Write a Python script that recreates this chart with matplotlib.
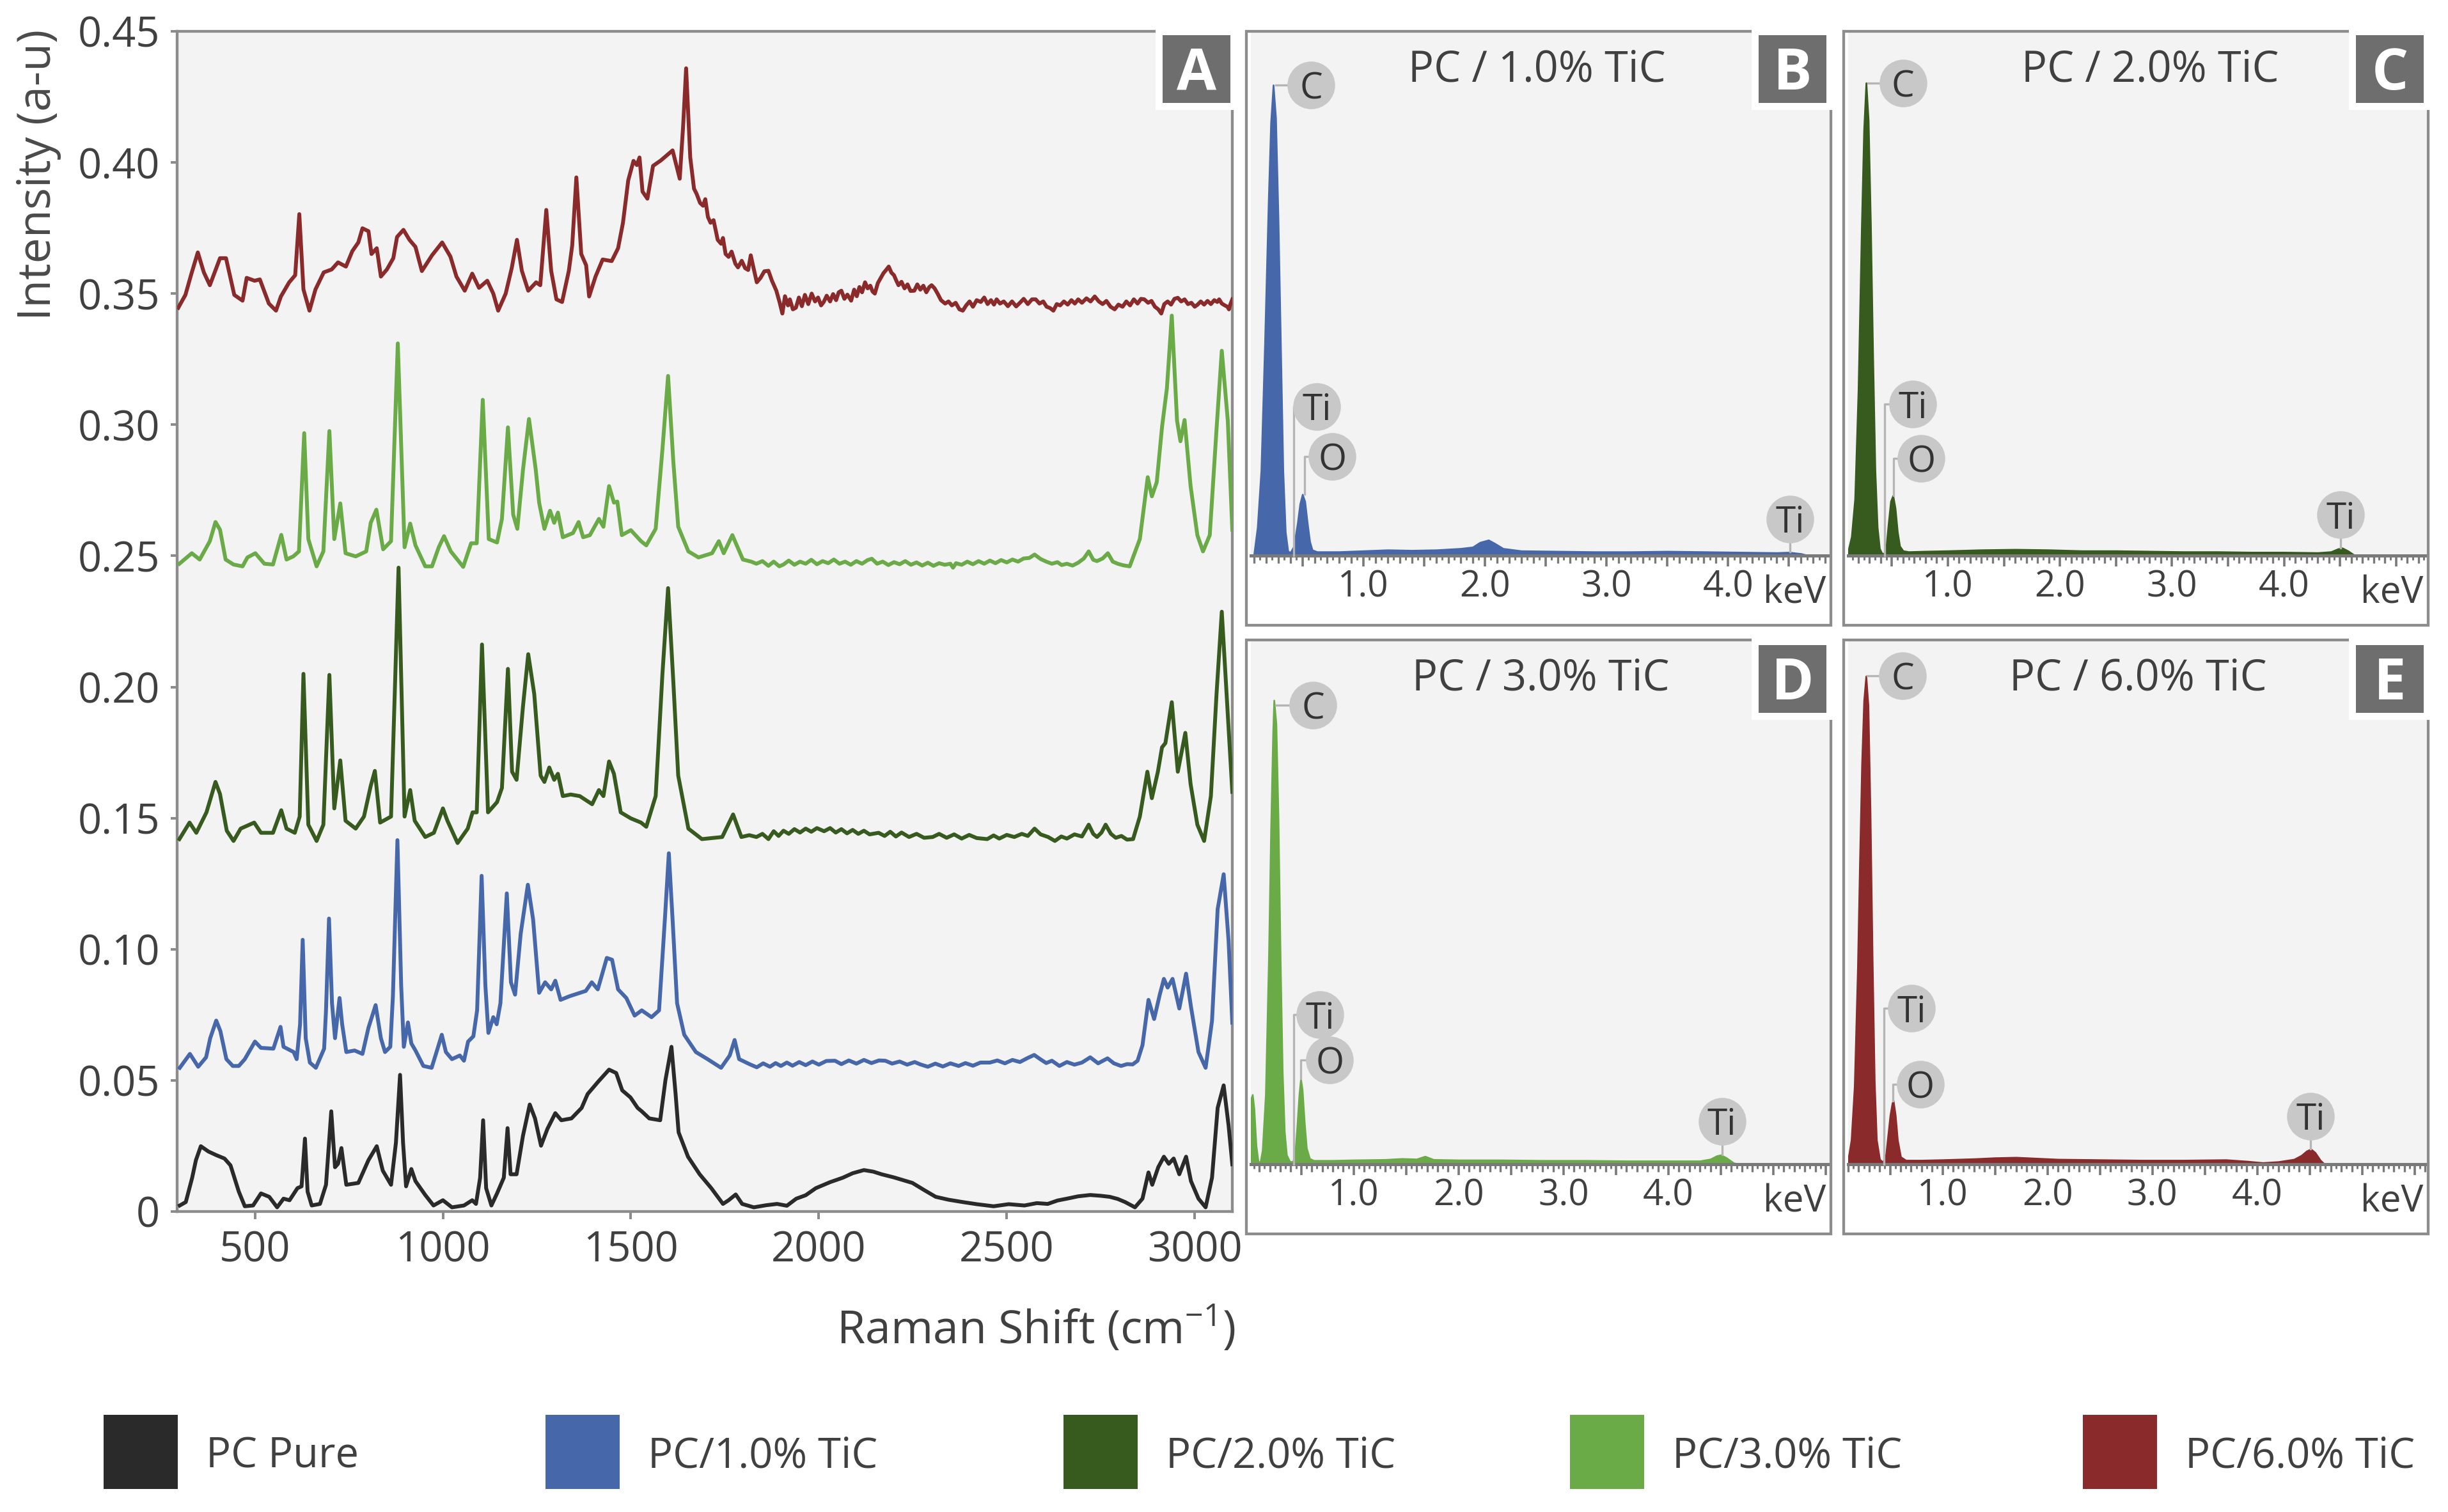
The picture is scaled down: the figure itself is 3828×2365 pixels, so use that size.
import matplotlib
matplotlib.use('Agg')
import matplotlib.pyplot as plt
from matplotlib.patches import Rectangle
from matplotlib.ticker import MultipleLocator, FuncFormatter
import numpy as np

plt.rcParams['font.family'] = ['Open Sans', 'DejaVu Sans']
plt.rcParams['mathtext.fontset'] = 'custom'
plt.rcParams['mathtext.rm'] = 'Open Sans'
plt.rcParams['mathtext.it'] = 'Open Sans:italic'
plt.rcParams['mathtext.bf'] = 'Open Sans:bold'

# ---------------------------------------------------------------- data
series_names = ['PC Pure', 'PC/1.0% TiC', 'PC/2.0% TiC', 'PC/3.0% TiC', 'PC/6.0% TiC']
series_colors = ['#2a2a2a', '#4668AA', '#375A1E', '#6AAB48', '#8A2A2A']

raman_pure = [
    (300, 0.0023), (316, 0.0036), (333, 0.0129), (343, 0.0196), (356, 0.0249), (376, 0.0229),
    (397, 0.0215), (419, 0.0202), (435, 0.0176), (457, 0.0076), (473, 0.0020), (495, 0.0023),
    (516, 0.0069), (538, 0.0056), (559, 0.0016), (576, 0.0049), (592, 0.0043), (613, 0.0089),
    (624, 0.0096), (633, 0.0278), (640, 0.0076), (651, 0.0023), (673, 0.0029), (689, 0.0102),
    (703, 0.0382), (713, 0.0169), (721, 0.0182), (730, 0.0242), (743, 0.0102), (775, 0.0109),
    (802, 0.0196), (824, 0.0249), (840, 0.0156), (862, 0.0102), (875, 0.0262), (886, 0.0521),
    (894, 0.0262), (902, 0.0096), (916, 0.0162), (927, 0.0116), (953, 0.0063), (975, 0.0023),
    (1000, 0.0043), (1024, 0.0016), (1056, 0.0023), (1078, 0.0043), (1088, 0.0029), (1099, 0.0129),
    (1107, 0.0348), (1115, 0.0089), (1129, 0.0023), (1144, 0.0069), (1162, 0.0129), (1172, 0.0318),
    (1180, 0.0142), (1196, 0.0142), (1213, 0.0289), (1231, 0.0408), (1245, 0.0355), (1261, 0.0251),
    (1278, 0.0315), (1299, 0.0375), (1315, 0.0348), (1342, 0.0355), (1369, 0.0395), (1385, 0.0448),
    (1413, 0.0495), (1442, 0.0541), (1461, 0.0528), (1477, 0.0462), (1499, 0.0435), (1518, 0.0395),
    (1529, 0.0382), (1549, 0.0355), (1578, 0.0348), (1592, 0.0501), (1608, 0.0628), (1619, 0.0448),
    (1627, 0.0302), (1652, 0.0209), (1683, 0.0142), (1714, 0.0089), (1745, 0.0029), (1760, 0.0043),
    (1779, 0.0065), (1796, 0.0029), (1827, 0.0016), (1860, 0.0024), (1889, 0.0029), (1915, 0.0022),
    (1940, 0.0049), (1965, 0.0062), (1992, 0.0089), (2030, 0.0112), (2064, 0.0129), (2090, 0.0146),
    (2120, 0.0158), (2145, 0.0152), (2167, 0.0142), (2200, 0.0130), (2249, 0.0109), (2280, 0.0082),
    (2311, 0.0056), (2345, 0.0045), (2383, 0.0036), (2420, 0.0028), (2465, 0.0020), (2505, 0.0028),
    (2547, 0.0023), (2580, 0.0032), (2609, 0.0029), (2635, 0.0042), (2660, 0.0049), (2690, 0.0058),
    (2722, 0.0063), (2750, 0.0060), (2774, 0.0056), (2795, 0.0048), (2815, 0.0036), (2841, 0.0016),
    (2861, 0.0049), (2877, 0.0149), (2887, 0.0102), (2903, 0.0169), (2918, 0.0209), (2931, 0.0182),
    (2944, 0.0202), (2959, 0.0142), (2977, 0.0209), (2990, 0.0116), (3010, 0.0049), (3029, 0.0016),
    (3046, 0.0129), (3061, 0.0395), (3077, 0.0481), (3090, 0.0329), (3100, 0.0180),
]

raman_1pct = [
    (300, 0.0548), (327, 0.0601), (349, 0.0552), (370, 0.0588), (381, 0.0661), (397, 0.0728),
    (408, 0.0688), (424, 0.0581), (441, 0.0555), (457, 0.0555), (473, 0.0581), (500, 0.0648),
    (516, 0.0624), (549, 0.0621), (568, 0.0704), (576, 0.0628), (603, 0.0608), (611, 0.0581),
    (620, 0.0714), (627, 0.1036), (635, 0.0661), (646, 0.0568), (662, 0.0548), (684, 0.0621),
    (689, 0.0767), (697, 0.1117), (705, 0.0794), (713, 0.0661), (725, 0.0814), (732, 0.0714),
    (743, 0.0608), (765, 0.0614), (786, 0.0601), (802, 0.0701), (821, 0.0787), (835, 0.0661),
    (846, 0.0608), (860, 0.0628), (867, 0.0821), (879, 0.1416), (889, 0.0861), (896, 0.0628),
    (907, 0.0721), (916, 0.0641), (927, 0.0614), (948, 0.0555), (970, 0.0548), (983, 0.0608),
    (997, 0.0674), (1008, 0.0608), (1024, 0.0581), (1045, 0.0595), (1056, 0.0575), (1067, 0.0648),
    (1081, 0.0668), (1091, 0.0767), (1103, 0.1280), (1113, 0.0861), (1121, 0.0681), (1134, 0.0741),
    (1143, 0.0714), (1153, 0.0794), (1170, 0.1213), (1181, 0.0874), (1192, 0.0827), (1207, 0.1060),
    (1226, 0.1246), (1240, 0.1113), (1256, 0.0834), (1272, 0.0874), (1288, 0.0847), (1299, 0.0880),
    (1313, 0.0807), (1337, 0.0821), (1380, 0.0841), (1396, 0.0874), (1412, 0.0847), (1436, 0.0967),
    (1450, 0.0960), (1466, 0.0847), (1488, 0.0814), (1510, 0.0747), (1529, 0.0767), (1555, 0.0741),
    (1575, 0.0767), (1591, 0.1126), (1601, 0.1366), (1611, 0.1113), (1623, 0.0794), (1642, 0.0674),
    (1673, 0.0608), (1704, 0.0581), (1740, 0.0548), (1763, 0.0595), (1776, 0.0654), (1788, 0.0581),
    (1817, 0.0561), (1835, 0.0550), (1852, 0.0565), (1870, 0.0552), (1885, 0.0566), (1899, 0.0555),
    (1915, 0.0568), (1930, 0.0556), (1948, 0.0570), (1965, 0.0558), (1983, 0.0572), (2000, 0.0560),
    (2020, 0.0574), (2043, 0.0575), (2060, 0.0562), (2080, 0.0576), (2100, 0.0564), (2120, 0.0578),
    (2140, 0.0566), (2160, 0.0576), (2177, 0.0575), (2195, 0.0564), (2215, 0.0572), (2235, 0.0560),
    (2255, 0.0570), (2270, 0.0561), (2290, 0.0552), (2310, 0.0564), (2330, 0.0553), (2350, 0.0565),
    (2372, 0.0555), (2390, 0.0566), (2410, 0.0556), (2430, 0.0568), (2455, 0.0568), (2475, 0.0576),
    (2495, 0.0565), (2515, 0.0578), (2535, 0.0570), (2555, 0.0585), (2573, 0.0597), (2590, 0.0580),
    (2605, 0.0566), (2620, 0.0575), (2640, 0.0555), (2660, 0.0570), (2680, 0.0560), (2700, 0.0568),
    (2722, 0.0588), (2743, 0.0565), (2768, 0.0584), (2785, 0.0565), (2804, 0.0555), (2820, 0.0562),
    (2835, 0.0561), (2848, 0.0575), (2861, 0.0634), (2877, 0.0807), (2892, 0.0734), (2907, 0.0827),
    (2918, 0.0887), (2928, 0.0854), (2941, 0.0887), (2959, 0.0774), (2977, 0.0907), (2990, 0.0781),
    (3010, 0.0608), (3029, 0.0548), (3046, 0.0727), (3061, 0.1153), (3077, 0.1286), (3090, 0.1033),
    (3100, 0.0720),
]

raman_2pct = [
    (299, 0.1420), (326, 0.1483), (344, 0.1444), (371, 0.1522), (395, 0.1638), (407, 0.1592),
    (425, 0.1452), (443, 0.1413), (462, 0.1460), (498, 0.1483), (516, 0.1444), (548, 0.1444),
    (570, 0.1530), (584, 0.1460), (606, 0.1444), (619, 0.1506), (629, 0.2050), (642, 0.1475),
    (664, 0.1413), (682, 0.1475), (698, 0.2046), (711, 0.1537), (727, 0.1720), (741, 0.1490),
    (768, 0.1460), (790, 0.1506), (808, 0.1623), (819, 0.1680), (833, 0.1483), (862, 0.1506),
    (882, 0.2455), (898, 0.1506), (913, 0.1607), (925, 0.1490), (953, 0.1428), (976, 0.1444),
    (1000, 0.1537), (1012, 0.1490), (1039, 0.1405), (1066, 0.1460), (1079, 0.1522), (1090, 0.1522),
    (1104, 0.2162), (1120, 0.1522), (1144, 0.1561), (1157, 0.1615), (1173, 0.2069), (1184, 0.1677),
    (1196, 0.1646), (1213, 0.1926), (1227, 0.2125), (1243, 0.1973), (1260, 0.1662), (1270, 0.1638),
    (1283, 0.1693), (1296, 0.1646), (1306, 0.1669), (1319, 0.1584), (1340, 0.1590), (1364, 0.1584),
    (1397, 0.1553), (1415, 0.1607), (1427, 0.1584), (1442, 0.1716), (1455, 0.1669), (1473, 0.1522),
    (1500, 0.1499), (1527, 0.1483), (1541, 0.1467), (1566, 0.1584), (1584, 0.2050), (1599, 0.2377),
    (1613, 0.2019), (1626, 0.1662), (1653, 0.1460), (1689, 0.1420), (1743, 0.1428), (1772, 0.1514),
    (1794, 0.1428), (1815, 0.1435), (1834, 0.1428), (1850, 0.1440), (1866, 0.1420), (1880, 0.1450),
    (1893, 0.1432), (1906, 0.1452), (1920, 0.1440), (1935, 0.1458), (1950, 0.1445), (1965, 0.1460),
    (1980, 0.1448), (1995, 0.1462), (2014, 0.1450), (2030, 0.1462), (2045, 0.1445), (2060, 0.1458),
    (2075, 0.1442), (2090, 0.1455), (2105, 0.1440), (2120, 0.1452), (2135, 0.1438), (2159, 0.1444),
    (2175, 0.1432), (2190, 0.1448), (2205, 0.1430), (2220, 0.1445), (2240, 0.1428), (2260, 0.1440),
    (2280, 0.1425), (2303, 0.1428), (2320, 0.1440), (2340, 0.1425), (2360, 0.1438), (2380, 0.1422),
    (2400, 0.1436), (2420, 0.1424), (2448, 0.1420), (2465, 0.1434), (2480, 0.1422), (2500, 0.1436),
    (2520, 0.1428), (2540, 0.1440), (2556, 0.1432), (2574, 0.1460), (2590, 0.1438), (2610, 0.1428),
    (2628, 0.1413), (2645, 0.1430), (2660, 0.1422), (2680, 0.1438), (2700, 0.1430), (2718, 0.1475),
    (2730, 0.1440), (2740, 0.1428), (2752, 0.1445), (2763, 0.1475), (2777, 0.1440), (2790, 0.1425),
    (2805, 0.1432), (2820, 0.1418), (2836, 0.1420), (2854, 0.1506), (2874, 0.1677), (2886, 0.1576),
    (2902, 0.1677), (2913, 0.1770), (2922, 0.1786), (2939, 0.1942), (2955, 0.1677), (2975, 0.1825),
    (2989, 0.1630), (3007, 0.1475), (3025, 0.1413), (3043, 0.1584), (3058, 0.1973), (3072, 0.2287),
    (3088, 0.1895), (3100, 0.1600),
]

raman_3pct = [
    (299, 0.2470), (332, 0.2510), (353, 0.2486), (380, 0.2556), (395, 0.2629), (407, 0.2600),
    (422, 0.2486), (443, 0.2467), (467, 0.2460), (480, 0.2494), (501, 0.2510), (525, 0.2470),
    (548, 0.2467), (570, 0.2580), (584, 0.2486), (602, 0.2498), (617, 0.2517), (631, 0.2968),
    (642, 0.2564), (664, 0.2460), (682, 0.2517), (698, 0.2976), (711, 0.2564), (727, 0.2700),
    (741, 0.2510), (768, 0.2498), (796, 0.2517), (808, 0.2626), (823, 0.2676), (841, 0.2525),
    (862, 0.2556), (880, 0.3310), (898, 0.2533), (913, 0.2623), (927, 0.2540), (953, 0.2460),
    (971, 0.2460), (989, 0.2533), (1003, 0.2575), (1021, 0.2517), (1054, 0.2458), (1075, 0.2548),
    (1090, 0.2548), (1106, 0.3095), (1122, 0.2564), (1144, 0.2551), (1157, 0.2641), (1173, 0.2990),
    (1187, 0.2657), (1198, 0.2603), (1213, 0.2828), (1229, 0.3022), (1247, 0.2828), (1256, 0.2703),
    (1270, 0.2603), (1285, 0.2672), (1296, 0.2626), (1306, 0.2665), (1319, 0.2571), (1346, 0.2587),
    (1361, 0.2629), (1373, 0.2571), (1391, 0.2579), (1415, 0.2641), (1427, 0.2611), (1442, 0.2766),
    (1455, 0.2703), (1464, 0.2707), (1476, 0.2579), (1500, 0.2598), (1527, 0.2556), (1541, 0.2540),
    (1566, 0.2603), (1584, 0.2906), (1599, 0.3186), (1613, 0.2859), (1626, 0.2611), (1653, 0.2517),
    (1680, 0.2494), (1716, 0.2510), (1734, 0.2556), (1747, 0.2510), (1770, 0.2579), (1798, 0.2486),
    (1820, 0.2478), (1834, 0.2470), (1850, 0.2480), (1866, 0.2462), (1880, 0.2478), (1895, 0.2460),
    (1906, 0.2467), (1920, 0.2482), (1935, 0.2466), (1950, 0.2478), (1965, 0.2470), (1980, 0.2485),
    (1995, 0.2468), (2010, 0.2480), (2025, 0.2472), (2040, 0.2486), (2055, 0.2470), (2070, 0.2478),
    (2085, 0.2466), (2100, 0.2480), (2115, 0.2470), (2130, 0.2484), (2141, 0.2489), (2155, 0.2470),
    (2170, 0.2478), (2185, 0.2465), (2200, 0.2476), (2215, 0.2468), (2230, 0.2480), (2245, 0.2466),
    (2260, 0.2475), (2275, 0.2463), (2290, 0.2474), (2305, 0.2462), (2320, 0.2472), (2335, 0.2466),
    (2350, 0.2470), (2357, 0.2455), (2365, 0.2472), (2380, 0.2466), (2395, 0.2478), (2410, 0.2468),
    (2425, 0.2480), (2440, 0.2470), (2455, 0.2482), (2470, 0.2472), (2485, 0.2484), (2500, 0.2475),
    (2515, 0.2486), (2530, 0.2478), (2545, 0.2490), (2560, 0.2492), (2574, 0.2505), (2590, 0.2488),
    (2605, 0.2478), (2620, 0.2470), (2635, 0.2476), (2646, 0.2465), (2660, 0.2470), (2675, 0.2463),
    (2690, 0.2474), (2705, 0.2490), (2718, 0.2517), (2730, 0.2485), (2740, 0.2480), (2755, 0.2490),
    (2769, 0.2510), (2782, 0.2478), (2795, 0.2470), (2810, 0.2464), (2827, 0.2460), (2854, 0.2564),
    (2875, 0.2800), (2886, 0.2727), (2899, 0.2781), (2913, 0.2991), (2926, 0.3139), (2939, 0.3416),
    (2953, 0.3015), (2962, 0.2937), (2973, 0.3018), (2989, 0.2766), (3007, 0.2579), (3022, 0.2517),
    (3040, 0.2579), (3058, 0.2983), (3072, 0.3282), (3088, 0.3015), (3100, 0.2600),
]

raman_6pct = [
    (296, 0.3446), (315, 0.3495), (331, 0.3576), (348, 0.3657), (364, 0.3581), (380, 0.3532),
    (407, 0.3635), (423, 0.3635), (445, 0.3495), (467, 0.3473), (478, 0.3560), (499, 0.3549),
    (513, 0.3554), (537, 0.3462), (556, 0.3435), (569, 0.3489), (591, 0.3543), (607, 0.3570),
    (618, 0.3803), (629, 0.3516), (645, 0.3435), (661, 0.3516), (683, 0.3581), (704, 0.3592),
    (721, 0.3619), (742, 0.3603), (759, 0.3662), (775, 0.3695), (786, 0.3749), (802, 0.3738),
    (810, 0.3651), (824, 0.3673), (835, 0.3565), (851, 0.3592), (868, 0.3635), (878, 0.3716),
    (895, 0.3743), (911, 0.3705), (927, 0.3678), (944, 0.3586), (971, 0.3646), (998, 0.3695),
    (1020, 0.3641), (1036, 0.3565), (1058, 0.3511), (1078, 0.3576), (1096, 0.3522), (1118, 0.3549),
    (1134, 0.3500), (1147, 0.3435), (1167, 0.3500), (1183, 0.3597), (1197, 0.3705), (1210, 0.3587),
    (1227, 0.3511), (1248, 0.3543), (1259, 0.3532), (1275, 0.3819), (1288, 0.3587), (1302, 0.3478),
    (1317, 0.3468), (1335, 0.3587), (1344, 0.3684), (1355, 0.3943), (1368, 0.3651), (1381, 0.3608),
    (1389, 0.3489), (1406, 0.3565), (1425, 0.3630), (1449, 0.3624), (1466, 0.3673), (1479, 0.3770),
    (1493, 0.3932), (1507, 0.4006), (1516, 0.3990), (1523, 0.4019), (1531, 0.3889), (1544, 0.3862),
    (1559, 0.3987), (1580, 0.4008), (1611, 0.4046), (1630, 0.3938), (1639, 0.4138), (1647, 0.4359),
    (1658, 0.4019), (1668, 0.3900), (1675, 0.3880), (1684, 0.3846), (1692, 0.3835), (1698, 0.3860),
    (1705, 0.3792), (1712, 0.3770), (1720, 0.3780), (1731, 0.3705), (1740, 0.3690), (1745, 0.3712),
    (1752, 0.3651), (1760, 0.3640), (1768, 0.3660), (1778, 0.3614), (1785, 0.3600), (1795, 0.3625),
    (1804, 0.3597), (1812, 0.3590), (1819, 0.3646), (1826, 0.3600), (1835, 0.3543), (1845, 0.3560),
    (1855, 0.3585), (1866, 0.3587), (1875, 0.3550), (1887, 0.3511), (1896, 0.3465), (1903, 0.3424),
    (1910, 0.3490), (1918, 0.3455), (1923, 0.3478), (1931, 0.3440), (1939, 0.3446), (1947, 0.3485),
    (1955, 0.3452), (1963, 0.3495), (1972, 0.3460), (1981, 0.3500), (1990, 0.3470), (1998, 0.3485),
    (2006, 0.3455), (2013, 0.3468), (2021, 0.3492), (2030, 0.3470), (2038, 0.3498), (2046, 0.3475),
    (2053, 0.3505), (2060, 0.3511), (2068, 0.3480), (2076, 0.3496), (2086, 0.3473), (2094, 0.3515),
    (2101, 0.3490), (2108, 0.3525), (2115, 0.3505), (2123, 0.3543), (2130, 0.3520), (2137, 0.3530),
    (2143, 0.3508), (2149, 0.3500), (2157, 0.3540), (2165, 0.3560), (2172, 0.3578), (2179, 0.3590),
    (2186, 0.3603), (2193, 0.3580), (2200, 0.3570), (2206, 0.3550), (2212, 0.3532), (2220, 0.3545),
    (2228, 0.3520), (2236, 0.3535), (2244, 0.3510), (2254, 0.3511), (2262, 0.3535), (2270, 0.3515),
    (2278, 0.3530), (2286, 0.3505), (2294, 0.3525), (2300, 0.3532), (2308, 0.3520), (2316, 0.3500),
    (2325, 0.3475), (2336, 0.3462), (2345, 0.3470), (2354, 0.3455), (2364, 0.3465), (2374, 0.3440),
    (2383, 0.3435), (2392, 0.3455), (2401, 0.3470), (2410, 0.3450), (2420, 0.3475), (2431, 0.3468),
    (2440, 0.3485), (2449, 0.3460), (2458, 0.3475), (2466, 0.3458), (2473, 0.3478), (2482, 0.3462),
    (2492, 0.3470), (2503, 0.3452), (2514, 0.3470), (2525, 0.3451), (2535, 0.3465), (2545, 0.3480),
    (2556, 0.3460), (2567, 0.3478), (2577, 0.3478), (2587, 0.3462), (2597, 0.3470), (2606, 0.3450),
    (2615, 0.3445), (2624, 0.3435), (2633, 0.3460), (2642, 0.3455), (2652, 0.3470), (2662, 0.3458),
    (2672, 0.3475), (2681, 0.3462), (2690, 0.3478), (2700, 0.3465), (2712, 0.3482), (2723, 0.3470),
    (2734, 0.3489), (2745, 0.3470), (2755, 0.3460), (2765, 0.3472), (2776, 0.3450), (2787, 0.3440),
    (2797, 0.3458), (2808, 0.3450), (2818, 0.3470), (2828, 0.3455), (2838, 0.3478), (2848, 0.3462),
    (2857, 0.3480), (2866, 0.3478), (2876, 0.3465), (2885, 0.3472), (2894, 0.3450), (2903, 0.3440),
    (2911, 0.3424), (2919, 0.3460), (2928, 0.3470), (2937, 0.3458), (2946, 0.3480), (2955, 0.3484),
    (2964, 0.3470), (2973, 0.3478), (2982, 0.3460), (2991, 0.3465), (3000, 0.3450), (3007, 0.3457),
    (3016, 0.3470), (3025, 0.3458), (3034, 0.3472), (3043, 0.3460), (3052, 0.3475), (3060, 0.3468),
    (3065, 0.3478), (3072, 0.3462), (3080, 0.3455), (3087, 0.3450), (3091, 0.3440), (3095, 0.3460),
    (3100, 0.3478),
]

raman_series = [raman_pure, raman_1pct, raman_2pct, raman_3pct, raman_6pct]

raman_xticks = [500, 1000, 1500, 2000, 2500, 3000]
raman_yticks = [0, 0.05, 0.10, 0.15, 0.20, 0.25, 0.30, 0.35, 0.40, 0.45]
raman_ytick_labels = ['0', '0.05', '0.10', '0.15', '0.20', '0.25', '0.30', '0.35', '0.40', '0.45']

# EDS spectra (energy in keV, counts relative to the C peak)
eds_B_kev = [0.08, 0.10, 0.13, 0.16, 0.19, 0.22, 0.24, 0.26, 0.28, 0.30, 0.32, 0.34, 0.36, 0.38,
             0.40, 0.43, 0.46, 0.48, 0.50, 0.52, 0.54, 0.56, 0.58, 0.62, 0.80, 1.00, 1.20, 1.40,
             1.60, 1.80, 1.90, 1.96, 2.03, 2.08, 2.15, 2.30, 2.60, 2.90, 3.20, 3.50, 3.80, 4.10,
             4.40, 4.50, 4.60, 4.66]
eds_B_cnt = [0.00, 0.00, 0.06, 0.18, 0.45, 0.75, 0.92, 1.00, 0.93, 0.72, 0.45, 0.18, 0.05, 0.01,
             0.006, 0.02, 0.07, 0.11, 0.13, 0.115, 0.07, 0.03, 0.012, 0.008, 0.008, 0.010, 0.012, 0.011,
             0.012, 0.015, 0.018, 0.028, 0.033, 0.026, 0.015, 0.010, 0.009, 0.008, 0.008, 0.009, 0.008, 0.007,
             0.006, 0.007, 0.004, 0.0]

eds_C_kev = [0.11, 0.14, 0.17, 0.20, 0.23, 0.25, 0.27, 0.29, 0.31, 0.33, 0.35, 0.37, 0.39, 0.41,
             0.43, 0.45, 0.47, 0.49, 0.51, 0.53, 0.55, 0.57, 0.60, 0.65, 0.80, 1.00, 1.30, 1.60,
             1.90, 2.20, 2.50, 2.80, 3.10, 3.40, 3.70, 4.00, 4.30, 4.42, 4.48, 4.52, 4.57, 4.62, 4.65]
eds_C_cnt = [0.01, 0.04, 0.12, 0.35, 0.70, 0.90, 1.00, 0.92, 0.70, 0.42, 0.18, 0.06, 0.015, 0.005,
             0.004, 0.02, 0.07, 0.115, 0.127, 0.10, 0.05, 0.02, 0.01, 0.008, 0.009, 0.010, 0.012, 0.013,
             0.012, 0.010, 0.010, 0.009, 0.008, 0.008, 0.007, 0.007, 0.006, 0.008, 0.014, 0.016, 0.010, 0.002, 0.0]

eds_D_kev = [0.02, 0.035, 0.05, 0.07, 0.09, 0.11, 0.13, 0.16, 0.19, 0.21, 0.23, 0.24, 0.26, 0.28,
             0.30, 0.32, 0.34, 0.36, 0.39, 0.42, 0.44, 0.46, 0.48, 0.495, 0.51, 0.53, 0.55, 0.58,
             0.62, 0.80, 1.00, 1.30, 1.46, 1.60, 1.68, 1.76, 2.00, 2.40, 2.80, 3.20, 3.60, 4.00,
             4.30, 4.40, 4.46, 4.50, 4.55, 4.62, 4.66]
eds_D_cnt = [0.14, 0.15, 0.12, 0.04, 0.005, 0.005, 0.03, 0.15, 0.45, 0.72, 0.93, 1.00, 0.95, 0.75,
             0.45, 0.20, 0.07, 0.02, 0.006, 0.005, 0.02, 0.08, 0.15, 0.184, 0.16, 0.09, 0.035, 0.012,
             0.008, 0.008, 0.009, 0.010, 0.012, 0.011, 0.017, 0.010, 0.009, 0.009, 0.008, 0.008, 0.007, 0.007,
             0.007, 0.011, 0.018, 0.020, 0.014, 0.003, 0.0]

eds_E_kev = [0.10, 0.13, 0.16, 0.19, 0.21, 0.23, 0.25, 0.27, 0.29, 0.31, 0.33, 0.35, 0.37, 0.40,
             0.43, 0.46, 0.48, 0.50, 0.52, 0.53, 0.55, 0.57, 0.60, 0.65, 0.80, 1.00, 1.30, 1.50,
             1.70, 1.90, 2.10, 2.50, 2.90, 3.30, 3.70, 3.90, 4.05, 4.20, 4.35, 4.42, 4.47, 4.51,
             4.55, 4.60, 4.64]
eds_E_cnt = [0.01, 0.05, 0.16, 0.40, 0.62, 0.82, 0.95, 1.00, 0.94, 0.72, 0.42, 0.17, 0.05, 0.01,
             0.004, 0.02, 0.06, 0.10, 0.125, 0.13, 0.10, 0.05, 0.015, 0.008, 0.008, 0.009, 0.011, 0.013,
             0.014, 0.012, 0.010, 0.009, 0.008, 0.008, 0.009, 0.006, 0.003, 0.005, 0.010, 0.018, 0.027, 0.031,
             0.024, 0.008, 0.0]

eds_titles = ['PC / 1.0% TiC', 'PC / 2.0% TiC', 'PC / 3.0% TiC', 'PC / 6.0% TiC']
eds_letters = ['B', 'C', 'D', 'E']
eds_xlims = [(0.076, 4.83), (0.11, 5.27), (0.02, 5.53), (0.10, 5.61)]
eds_ytops = [1.114, 1.109, 1.13, 1.074]

# element labels: (text, circle keV, circle y, leader type, leader x, leader end y)
eds_labels_B = [('C', 0.57, 1.0, 'h', 0.28, 1.0), ('Ti', 0.618, 0.317, 'L', 0.427, 0.0),
                ('O', 0.745, 0.21, 'L', 0.52, 0.13), ('Ti', 4.51, 0.078, 'v', 4.51, 0.008)]
eds_labels_C = [('C', 0.60, 1.0, 'h', 0.285, 1.0), ('Ti', 0.686, 0.32, 'L', 0.435, 0.0),
                ('O', 0.763, 0.205, 'L', 0.515, 0.127), ('Ti', 4.505, 0.086, 'v', 4.505, 0.016)]
eds_labels_D = [('C', 0.613, 0.99, 'h', 0.255, 0.99), ('Ti', 0.68, 0.322, 'L', 0.428, 0.0),
                ('O', 0.771, 0.225, 'L', 0.497, 0.184), ('Ti', 4.51, 0.093, 'v', 4.51, 0.02)]
eds_labels_E = [('C', 0.62, 1.0, 'h', 0.285, 1.0), ('Ti', 0.706, 0.319, 'L', 0.442, 0.0),
                ('O', 0.788, 0.164, 'L', 0.528, 0.13), ('Ti', 4.506, 0.0985, 'v', 4.506, 0.031)]

# ---------------------------------------------------------------- layout helpers
W, H = 3828, 2365
DPI = 240
fig = plt.figure(figsize=(W / DPI, H / DPI), dpi=DPI)
fig.patch.set_facecolor('white')

TXT = '#404040'
SPINE = '#8c8c8c'
BG = '#F3F3F3'


def fx(x):
    return x / W


def fy(y):
    return 1 - y / H


def rect_px(x0, y0, x1, y1):
    return [fx(x0), fy(y1), (x1 - x0) / W, (y1 - y0) / H]


def fig_rect(x0, y0, x1, y1, **kw):
    r = Rectangle((fx(x0), fy(y1)), (x1 - x0) / W, (y1 - y0) / H,
                  transform=fig.transFigure, **kw)
    fig.add_artist(r)
    return r


def letter_box(cx, cy, letter):
    fig_rect(cx - 64, cy - 64, cx + 64, cy + 64, fc='white', ec='none', zorder=20)
    fig_rect(cx - 53, cy - 53, cx + 53, cy + 53, fc='#6e6e6e', ec='none', zorder=21)
    fig.text(fx(cx), fy(cy + 32), letter, color='white', fontsize=27, fontweight='bold',
             ha='center', va='baseline', zorder=22)


# ---------------------------------------------------------------- panel A (Raman)
axA = fig.add_axes(rect_px(277, 49, 1927, 1895))
axA.set_facecolor(BG)
for data, col in zip(raman_series, series_colors):
    arr = np.array(sorted(data))
    axA.plot(arr[:, 0], arr[:, 1], color=col, lw=1.8, solid_joinstyle='round', zorder=3)
axA.set_xlim(293, 3100)
axA.set_ylim(0, 0.45)
axA.set_xticks(raman_xticks)
axA.set_xticklabels([str(v) for v in raman_xticks])
axA.set_yticks(raman_yticks)
axA.set_yticklabels(raman_ytick_labels)
for s in axA.spines.values():
    s.set_color(SPINE)
    s.set_linewidth(1.3)
axA.tick_params(axis='both', colors=SPINE, labelcolor=TXT, labelsize=19.5, width=1.2)
axA.tick_params(axis='y', length=3, pad=5)
axA.tick_params(axis='x', length=3.5, pad=5)
letter_box(1871, 108, 'A')

fig.text(fx(60), fy(46), 'Intensity (a-u)', rotation=90, ha='center', va='top',
         fontsize=21.5, color='#4a4a4a')
fig.text(fx(1932), fy(2102), r'Raman Shift (cm$^{\mathregular{-1}}$)', ha='right', va='baseline',
         fontsize=21.5, color=TXT)

# ---------------------------------------------------------------- EDS panels
eds_frames = [(1949, 49), (2883, 49), (1949, 1001), (2883, 1001)]
eds_letter_centers = [(2803, 108), (3737, 108), (2803, 1062), (3737, 1062)]
eds_title_x = [2403, 3362, 2409, 3343]
eds_data = [(eds_B_kev, eds_B_cnt), (eds_C_kev, eds_C_cnt), (eds_D_kev, eds_D_cnt), (eds_E_kev, eds_E_cnt)]
eds_labels = [eds_labels_B, eds_labels_C, eds_labels_D, eds_labels_E]
eds_colors = series_colors[1:]

FRAME_W, FRAME_H, PLOT_H = 914, 929, 820

for i in range(4):
    x0, y0 = eds_frames[i]
    x1, y1 = x0 + FRAME_W, y0 + FRAME_H
    fig_rect(x0, y0, x1, y1, fill=False, ec=SPINE, lw=1.3, zorder=15)
    ax = fig.add_axes(rect_px(x0 + 7, y0, x1 - 3, y0 + PLOT_H))
    ax.set_facecolor(BG)
    kev, cnt = eds_data[i]
    ax.fill_between(kev, 0, cnt, color=eds_colors[i], lw=0.8, zorder=3)
    ax.set_xlim(*eds_xlims[i])
    ax.set_ylim(0, eds_ytops[i])
    for side in ['top', 'left', 'right']:
        ax.spines[side].set_visible(False)
    ax.spines['bottom'].set_color('#7a7a7a')
    ax.spines['bottom'].set_linewidth(1.5)
    ax.spines['bottom'].set_zorder(4)
    ax.set_yticks([])
    ax.xaxis.set_major_locator(MultipleLocator(0.5))
    ax.xaxis.set_minor_locator(MultipleLocator(0.05))
    ax.xaxis.set_major_formatter(FuncFormatter(
        lambda v, p: ('%.1f' % v) if (abs(v - round(v)) < 1e-6 and 1 <= round(v) <= 4) else ''))
    ax.tick_params(axis='x', which='major', length=5, width=1.1, colors='#7a7a7a',
                   labelcolor=TXT, labelsize=17, pad=1.5)
    ax.tick_params(axis='x', which='minor', length=2.2, width=0.9, colors='#7a7a7a')
    lo, hi = eds_xlims[i]
    tenths = [k / 10 for k in range(int(np.ceil(lo * 10)), int(hi * 10) + 1) if k % 5 != 0]
    ax.vlines(tenths, -12 / PLOT_H, 0, transform=ax.get_xaxis_transform(),
              colors='#7a7a7a', lw=1.0, clip_on=False, zorder=4)
    fig.text(fx(x1 - 8), fy(y0 + PLOT_H + 75), 'keV', ha='right', va='baseline',
             fontsize=17.5, color=TXT)
    fig.text(fx(eds_title_x[i]), fy(y0 + 78), eds_titles[i], ha='center', va='baseline',
             fontsize=20, color=TXT)
    # element labels
    for (txt, cxk, cyk, kind, lx, ly) in eds_labels[i]:
        if kind == 'h':
            ax.plot([lx, cxk], [ly, cyk], color='#b5b5b5', lw=1.0, zorder=5, clip_on=False)
        elif kind == 'L':
            ax.plot([cxk, lx, lx], [cyk, cyk, ly], color='#b5b5b5', lw=1.0, zorder=5, clip_on=False)
        else:
            ax.plot([lx, lx], [cyk, ly], color='#b5b5b5', lw=1.0, zorder=5, clip_on=False)
        ax.scatter([cxk], [cyk], s=500, color='#c8c8c8', linewidths=0, zorder=6, clip_on=False)
        ax.text(cxk, cyk, txt, ha='center', va='center_baseline', fontsize=17, color='#333333',
                zorder=7)
    letter_box(eds_letter_centers[i][0], eds_letter_centers[i][1], eds_letters[i])

# ---------------------------------------------------------------- legend
legend_x = [162, 853, 1663, 2455, 3257]
for lx, name, col in zip(legend_x, series_names, series_colors):
    fig_rect(lx, 2213, lx + 116, 2329, fc=col, ec='none', zorder=5)
    fig.text(fx(lx + 160), fy(2271), name, ha='left', va='center_baseline', fontsize=19.5, color=TXT)

fig.savefig('out.png', dpi=DPI, facecolor='white')
